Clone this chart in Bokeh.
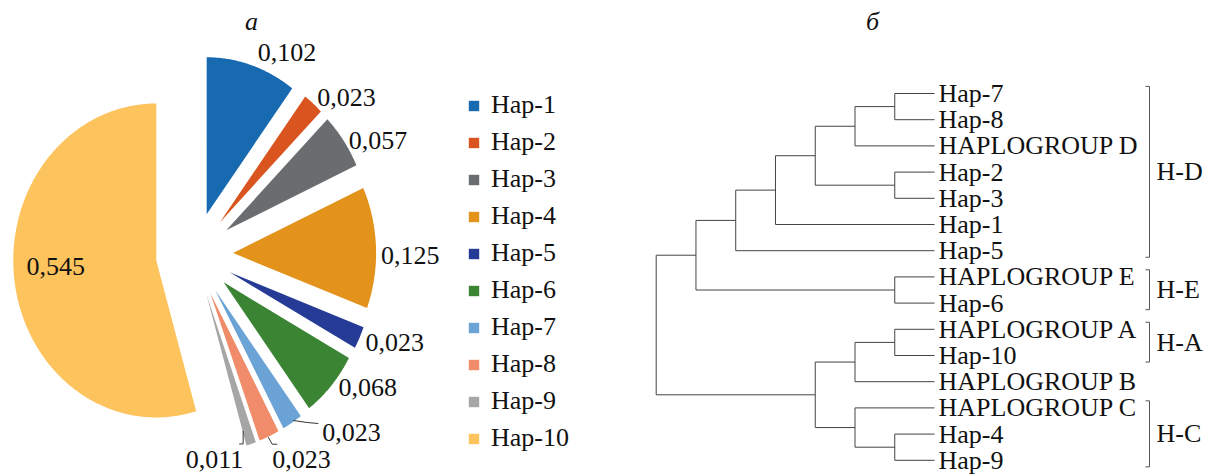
import numpy as np
from bokeh.plotting import figure
from bokeh.models import Range1d, Legend, LegendItem, Label, ColumnDataSource
from bokeh.layouts import row
from bokeh.embed import file_html
from bokeh.resources import INLINE
from bokeh.core.properties import value

FONT = "Liberation Serif"
FONT_SIZE = "26px"

# ---- haplotype frequencies (panel а) ----
haplotypes = ["Hap-1", "Hap-2", "Hap-3", "Hap-4", "Hap-5",
              "Hap-6", "Hap-7", "Hap-8", "Hap-9", "Hap-10"]
frequencies = [0.102, 0.023, 0.057, 0.125, 0.023,
               0.068, 0.023, 0.023, 0.011, 0.545]
slice_colors = ["#1769b0", "#d9541e", "#696d6f", "#e3931b", "#263b96",
                "#3a8434", "#6ba3d6", "#f08c69", "#a6a6a6", "#fdc45e"]

# ---- tree topology (panel б) ----
leaf_order = ["Hap-7", "Hap-8", "HAPLOGROUP D", "Hap-2", "Hap-3", "Hap-1",
              "Hap-5", "HAPLOGROUP E", "Hap-6", "HAPLOGROUP A", "Hap-10",
              "HAPLOGROUP B", "HAPLOGROUP C", "Hap-4", "Hap-9"]
# (node, child_a, child_b, level)  level 0 = root, leaves sit at level 7
merges = [
    ("n1", "Hap-7", "Hap-8", 6),
    ("n2", "n1", "HAPLOGROUP D", 5),
    ("n3", "Hap-2", "Hap-3", 6),
    ("n4", "n2", "n3", 4),
    ("n5", "n4", "Hap-1", 3),
    ("n6", "n5", "Hap-5", 2),
    ("n7", "HAPLOGROUP E", "Hap-6", 6),
    ("n8", "n6", "n7", 1),
    ("n9", "HAPLOGROUP A", "Hap-10", 6),
    ("n10", "n9", "HAPLOGROUP B", 5),
    ("n11", "Hap-4", "Hap-9", 6),
    ("n12", "HAPLOGROUP C", "n11", 5),
    ("n13", "n10", "n12", 4),
    ("root", "n8", "n13", 0),
]
leaf_level = 7
clades = [("H-D", "Hap-7", "Hap-5"),
          ("H-E", "HAPLOGROUP E", "Hap-6"),
          ("H-A", "HAPLOGROUP A", "Hap-10"),
          ("H-C", "HAPLOGROUP C", "Hap-9")]


def style(p):
    p.axis.visible = False
    p.grid.visible = False
    p.outline_line_color = None
    p.min_border = 0
    p.background_fill_color = "white"
    p.border_fill_color = "white"


# =================== pie panel ===================
PX_X, PX_Y = 143.0, 157.0          # pixels per unit radius
CX, CY = 194.0, 254.0              # pie centre in the panel, pixels
W1, H = 600, 475
pie = figure(width=W1, height=H, output_backend="svg", toolbar_location=None,
             x_range=Range1d(-CX / PX_X, (W1 - CX) / PX_X),
             y_range=Range1d(-(H - CY) / PX_Y, CY / PX_Y))
style(pie)

explode = 0.27
fr = np.array(frequencies)
ends = np.cumsum(fr) * 2 * np.pi
starts = ends - fr * 2 * np.pi
mids = (starts + ends) / 2

xs, ys = [], []
for a0, a1, am in zip(starts, ends, mids):
    t = np.linspace(a0, a1, max(6, int((a1 - a0) * 120)))
    ox, oy = explode * np.sin(am), explode * np.cos(am)
    xs.append(np.concatenate([[ox], ox + np.sin(t), [ox]]).tolist())
    ys.append(np.concatenate([[oy], oy + np.cos(t), [oy]]).tolist())

src = ColumnDataSource(dict(xs=xs, ys=ys, hap=haplotypes, color=slice_colors))
r = pie.patches("xs", "ys", source=src, fill_color="color", line_color=None)

# value labels just outside each slice (the large slice is labelled inside)
label_text = [f"{v:.3f}".replace(".", ",") for v in frequencies]
rad = np.full(len(fr), 1 + explode)
rad[-1] = 0.71 + explode
lx = rad * np.sin(mids)
ly = rad * np.cos(mids)
nudge = [(6, -13), (4, -6), (5, 0), (5, 8), (6, 5), (7, 2),
         (30, 10), (3, 23), (-8, 16), (0, -10)]
align = ["left"] * 8 + ["right", "center"]
lab_src = ColumnDataSource(dict(x=lx, y=ly, t=label_text,
                                dx=[n[0] for n in nudge], dy=[n[1] for n in nudge],
                                al=align))
pie.text("x", "y", text="t", source=lab_src, x_offset="dx", y_offset="dy",
         text_align="al", text_baseline="middle",
         text_font=value(FONT), text_font_size=FONT_SIZE, text_color="#111111")

# leader lines for the three narrow slices
leaders = {6: [(1, -2), (15, 0), (26, 1)],
           7: [(-1, 1), (3, 8), (8, 8)],
           8: [(-8, -13), (-8, 0), (-12, 0)]}
lxs, lys = [], []
for i, pts in leaders.items():
    ex, ey = (1 + explode) * np.sin(mids[i]), (1 + explode) * np.cos(mids[i])
    lxs.append([ex + dx / PX_X for dx, dy in pts])
    lys.append([ey - dy / PX_Y for dx, dy in pts])
pie.multi_line(lxs, lys, line_color="#333333", line_width=1)

legend = Legend(items=[LegendItem(label=h, renderers=[r], index=i)
                       for i, h in enumerate(haplotypes)],
                location=(467, 22), orientation="vertical",
                glyph_width=13, glyph_height=13, label_height=30, spacing=7,
                label_standoff=11, padding=0, margin=0,
                border_line_color=None, background_fill_alpha=0,
                label_text_font=FONT, label_text_font_size=FONT_SIZE,
                label_text_color="#111111")
pie.add_layout(legend)

pie.add_layout(Label(x=251, y=H - 21, x_units="screen", y_units="screen", text="а",
                     text_align="center", text_baseline="middle",
                     text_font=FONT, text_font_size=FONT_SIZE,
                     text_font_style="italic", text_color="#111111"))

# =================== dendrogram panel ===================
W2 = 605
LVL_PX, LEAF_PX = 39.76, 26.2
X0, Y0 = 55.7, 93.0                # root column / first leaf row, pixels
tree = figure(width=W2, height=H, output_backend="svg", toolbar_location=None,
              x_range=Range1d(-X0 / LVL_PX, (W2 - X0) / LVL_PX),
              y_range=Range1d((H - Y0) / LEAF_PX, -Y0 / LEAF_PX))
style(tree)

pos = {name: (leaf_level, i) for i, name in enumerate(leaf_order)}
sx0, sy0, sx1, sy1 = [], [], [], []
for node, a, b, lvl in merges:
    (xa, ya), (xb, yb) = pos[a], pos[b]
    sx0 += [lvl, lvl, lvl]
    sy0 += [ya, ya, yb]
    sx1 += [lvl, xa, xb]
    sy1 += [yb, ya, yb]
    pos[node] = (lvl, (ya + yb) / 2)
tree.segment(sx0, sy0, sx1, sy1, line_color="#444444", line_width=1)

tree.text(x=[leaf_level] * len(leaf_order), y=list(range(len(leaf_order))),
          text=leaf_order, x_offset=4, text_align="left", text_baseline="middle",
          text_font=value(FONT), text_font_size=FONT_SIZE, text_color="#111111")

bx = (1149 - 600 - X0) / LVL_PX
tick = 4 / LVL_PX
bxs, bys, tx, ty, tt = [], [], [], [], []
for name, first, last in clades:
    y0 = leaf_order.index(first) - 0.27
    y1 = leaf_order.index(last) + 0.25
    bxs.append([bx - tick, bx, bx, bx - tick])
    bys.append([y0, y0, y1, y1])
    tx.append(bx)
    ty.append((y0 + y1) / 2)
    tt.append(name)
tree.multi_line(bxs, bys, line_color="#555555", line_width=1)
tree.text(x=tx, y=ty, text=tt, x_offset=7, text_align="left", text_baseline="middle",
          text_font=value(FONT), text_font_size=FONT_SIZE, text_color="#111111")

tree.add_layout(Label(x=872 - 600, y=H - 21, x_units="screen", y_units="screen",
                      text="б", text_align="center", text_baseline="middle",
                      text_font=FONT, text_font_size=FONT_SIZE,
                      text_font_style="italic", text_color="#111111"))

layout = row(pie, tree, spacing=0)
open("out.html", "w").write(file_html(layout, INLINE))
